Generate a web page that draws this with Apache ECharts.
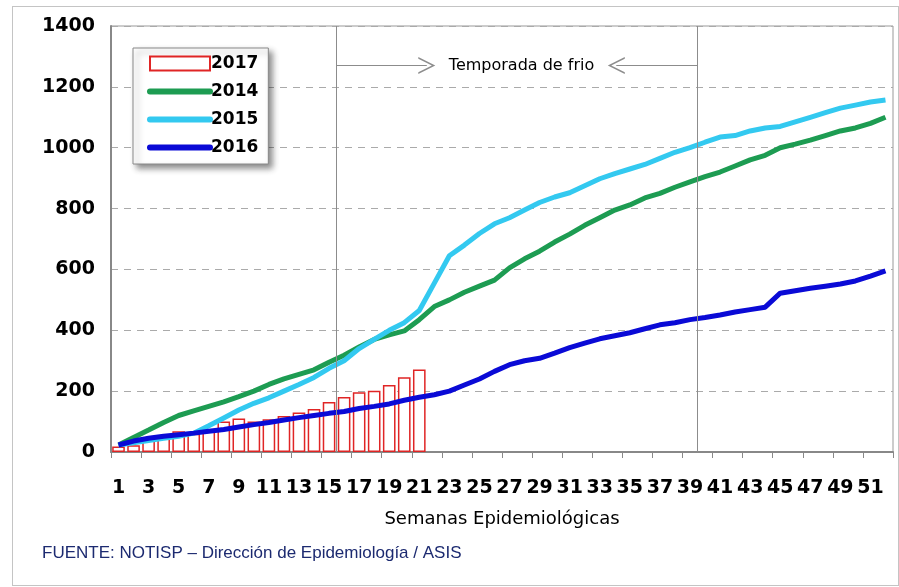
<!DOCTYPE html>
<html>
<head>
<meta charset="utf-8">
<title>Semanas epidemiológicas</title>
<script src="https://cdn.jsdelivr.net/npm/echarts@6/dist/echarts.min.js"></script>
<style>
  html, body { margin: 0; padding: 0; background: #fff; }
  #chart { position: absolute; left: 0; top: 0; width: 899px; height: 587px; }
  .marco { position: absolute; left: 12px; top: 6px; width: 885px; height: 578px; border: 1px solid #c4c4c4; pointer-events: none; }
</style>
</head>
<body>
<div id="chart"></div>
<div class="marco"></div>
<script>
// semanas epidemiologicas
var semanas = ["1","2","3","4","5","6","7","8","9","10","11","12","13","14","15","16","17","18","19","20",
  "21","22","23","24","25","26","27","28","29","30","31","32","33","34","35","36","37","38","39","40",
  "41","42","43","44","45","46","47","48","49","50","51","52"];

// 2017 (barras, hasta la semana 21)
var casos2017 = [18, 22, 38, 50, 68, 60, 75, 100, 110, 100, 108, 118, 130, 141, 164, 181, 196, 201, 220, 246, 271];

// acumulados de años anteriores
var casos2014 = [23, 48, 72, 97, 120, 135, 150, 165, 182, 200, 222, 240, 255, 270, 295, 318, 345, 370, 385, 398,
  435, 478, 500, 525, 545, 565, 605, 635, 660, 690, 716, 745, 770, 795, 812, 835, 850, 870, 888, 905,
  920, 940, 960, 975, 1000, 1012, 1025, 1040, 1055, 1065, 1080, 1100];
var casos2015 = [23, 30, 38, 45, 52, 62, 86, 112, 138, 160, 178, 200, 222, 245, 275, 300, 340, 370, 400, 425,
  465, 555, 645, 680, 718, 750, 770, 795, 820, 838, 852, 875, 898, 915, 930, 945, 965, 985, 1000, 1018,
  1035, 1040, 1055, 1065, 1070, 1085, 1100, 1115, 1130, 1140, 1150, 1157];
var casos2016 = [23, 36, 45, 52, 57, 62, 68, 74, 82, 90, 97, 105, 113, 120, 127, 133, 143, 150, 158, 170,
  180, 188, 200, 220, 240, 265, 287, 300, 308, 325, 343, 358, 372, 382, 392, 405, 418, 425, 435, 442,
  450, 460, 468, 476, 522, 530, 538, 545, 552, 562, 578, 595];

var chart = echarts.init(document.getElementById("chart"));

var flecha = "path://M0,10 L5,0 L10,10 L9,10 L5,2 L1,10 Z";
var fuenteEje = "DejaVu Sans";
var sinSimbolo = { opacity: 0 };

var option = {
  animation: false,
  backgroundColor: "#fff",
  grid: {
    left: 111,
    right: 6,
    top: 26,
    bottom: 135,
    show: true,
    borderColor: "#999",
    borderWidth: 1
  },
  legend: {
    data: [
      { name: "2017", icon: "rect" },
      { name: "2014", itemStyle: sinSimbolo },
      { name: "2015", itemStyle: sinSimbolo },
      { name: "2016", itemStyle: sinSimbolo }
    ],
    orient: "vertical",
    left: 133,
    top: 48,
    itemWidth: 60,
    itemHeight: 14,
    itemGap: 11,
    padding: [7, 10, 8, 14],
    backgroundColor: "#fff",
    borderColor: "#888",
    borderWidth: 1,
    shadowBlur: 6,
    shadowOffsetX: 4,
    shadowOffsetY: 4,
    shadowColor: "rgba(0,0,0,0.45)",
    lineStyle: { width: 6, cap: "round" },
    textStyle: {
      color: "#000",
      fontFamily: fuenteEje,
      fontWeight: "bold",
      fontSize: 17,
      padding: [0, 0, 0, -4]
    }
  },
  xAxis: [
    {
      type: "category",
      data: semanas,
      boundaryGap: true,
      name: "Semanas Epidemiológicas",
      nameLocation: "middle",
      nameGap: 58,
      nameTextStyle: { color: "#000", fontFamily: fuenteEje, fontSize: 18 },
      axisLine: { lineStyle: { color: "#888", width: 2 } },
      axisTick: { show: true, length: 6, lineStyle: { color: "#888" } },
      axisLabel: {
        interval: 1,
        margin: 27,
        color: "#000",
        fontFamily: fuenteEje,
        fontWeight: "bold",
        fontSize: 19
      },
      splitLine: { show: false }
    },
    {
      // eje auxiliar para las marcas de la temporada
      type: "value",
      min: 0,
      max: 52,
      show: false
    }
  ],
  yAxis: {
    type: "value",
    min: 0,
    max: 1400,
    interval: 200,
    axisLine: { show: true, lineStyle: { color: "#888", width: 2 } },
    axisTick: { show: false },
    axisLabel: {
      margin: 16,
      color: "#000",
      fontFamily: fuenteEje,
      fontWeight: "bold",
      fontSize: 19,
      formatter: function (v) { return String(v); }
    },
    splitLine: { lineStyle: { color: "#aaa", type: [7, 6], width: 1 } }
  },
  series: [
    {
      name: "2017",
      type: "bar",
      data: casos2017,
      barCategoryGap: "16%",
      itemStyle: { color: "#fff", borderColor: "#e02525", borderWidth: 1.5 }
    },
    {
      name: "2014",
      type: "line",
      data: casos2014,
      showSymbol: false,
      symbol: "none",
      lineStyle: { color: "#1d9c52", width: 5 },
      itemStyle: { color: "#1d9c52" }
    },
    {
      name: "2015",
      type: "line",
      data: casos2015,
      showSymbol: false,
      symbol: "none",
      lineStyle: { color: "#33c9f0", width: 5 },
      itemStyle: { color: "#33c9f0" }
    },
    {
      name: "2016",
      type: "line",
      data: casos2016,
      showSymbol: false,
      symbol: "none",
      lineStyle: { color: "#0a0ad6", width: 5 },
      itemStyle: { color: "#0a0ad6" }
    },
    {
      // temporada de frio
      name: "temporada",
      type: "line",
      xAxisIndex: 1,
      yAxisIndex: 0,
      data: [],
      silent: true,
      markLine: {
        silent: true,
        symbol: ["none", "none"],
        label: { show: false },
        lineStyle: { color: "#8c8c8c", width: 1, type: "solid" },
        data: [
          { xAxis: 15 },
          { xAxis: 39 },
          [
            { coord: [15, 1270], symbol: "none" },
            { coord: [21, 1270], symbol: flecha, symbolSize: 17 }
          ],
          [
            { coord: [39, 1270], symbol: "none" },
            { coord: [33.6, 1270], symbol: flecha, symbolSize: 17 }
          ]
        ]
      },
      markPoint: {
        silent: true,
        data: [
          {
            coord: [27.3, 1270],
            symbol: "rect",
            symbolSize: 1,
            itemStyle: { color: "rgba(0,0,0,0)" },
            label: {
              show: true,
              position: "inside",
              formatter: "Temporada de frio",
              color: "#000",
              fontFamily: fuenteEje,
              fontSize: 16
            }
          }
        ]
      }
    }
  ],
  graphic: [
    {
      type: "text",
      left: 42,
      top: 545,
      style: {
        text: "FUENTE: NOTISP – Dirección de Epidemiología / ASIS",
        fill: "#1c2a70",
        font: "17px 'Liberation Sans'"
      }
    }
  ]
};

chart.setOption(option);
</script>
</body>
</html>
